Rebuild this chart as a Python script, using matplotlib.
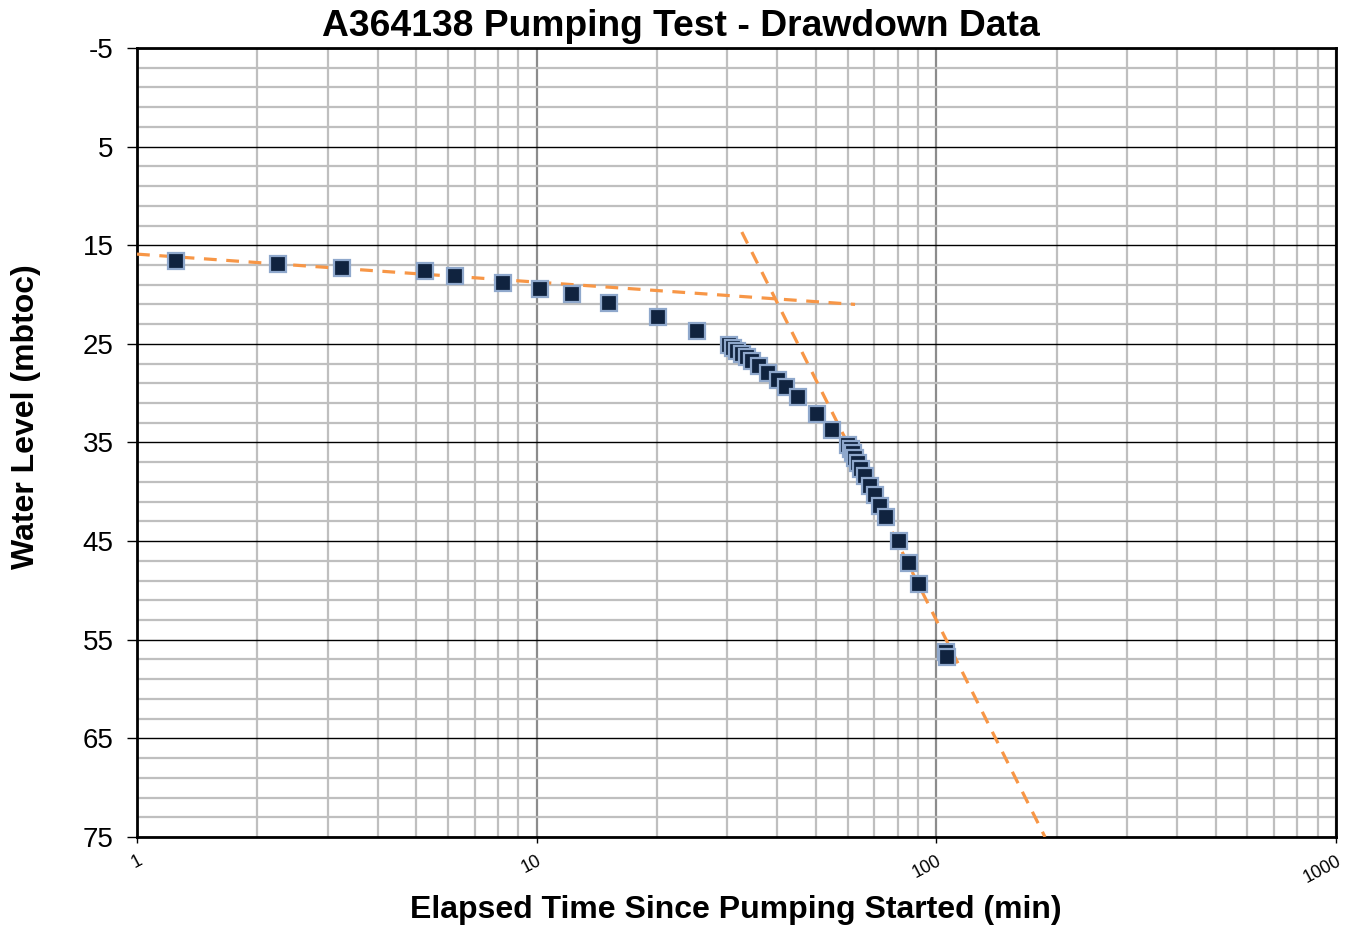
import numpy as np
import matplotlib
matplotlib.use("Agg")
import matplotlib.pyplot as plt
from matplotlib.ticker import FixedLocator, NullFormatter, FixedFormatter

plt.rcParams["font.family"] = ["Liberation Sans", "DejaVu Sans"]
plt.rcParams["axes.unicode_minus"] = False

# Drawdown data: elapsed time (min) vs water level (mbtoc)
time_min = [1.25, 2.25, 3.25, 5.25, 6.25, 8.25, 10.2, 12.25, 15.2, 20.1, 25.2,
            30.3, 31.0, 31.7, 32.6, 33.6, 34.6, 36.0, 37.9, 40.2, 42.0, 45.1,
            50.3, 54.8, 60.1, 61.1, 61.8, 62.6, 63.7, 64.8, 66.3, 68.2, 70.2,
            72.3, 74.8, 80.6, 85.4, 90.5, 105.7, 106.3]
water_level = [16.6, 16.9, 17.3, 17.6, 18.1, 18.8, 19.4, 19.9, 20.9, 22.3, 23.7,
               25.1, 25.4, 25.7, 26.0, 26.3, 26.7, 27.2, 28.0, 28.7, 29.4, 30.4,
               32.1, 33.7, 35.3, 35.7, 36.1, 36.6, 37.1, 37.7, 38.4, 39.4, 40.3,
               41.4, 42.6, 45.0, 47.2, 49.3, 56.2, 56.7]

# Straight-line fits (semi-log), given by their end points
early_fit_t = [1.0, 62.6]
early_fit_wl = [15.9, 21.0]
late_fit_t = [32.6, 187.0]
late_fit_wl = [13.66, 75.0]

y_ticks = [-5, 5, 15, 25, 35, 45, 55, 65, 75]
x_ticks = [1, 10, 100, 1000]
x_tick_labels = ["1", "10", "100", "1000"]

fig = plt.figure(figsize=(13.46, 9.30), dpi=100)
ax = fig.add_axes([0.1018, 0.1, 0.8908, 0.8484])

ax.set_xscale("log")
ax.set_xlim(1, 1000)
ax.set_ylim(75, -5)

# grid
minor_x = [m * d for d in (1, 10, 100) for m in range(2, 10)]
ax.xaxis.set_major_locator(FixedLocator(x_ticks))
ax.xaxis.set_minor_locator(FixedLocator(minor_x))
ax.xaxis.set_major_formatter(FixedFormatter(x_tick_labels))
ax.xaxis.set_minor_formatter(NullFormatter())
ax.yaxis.set_major_locator(FixedLocator(y_ticks))
ax.yaxis.set_minor_locator(FixedLocator(np.arange(-5, 76, 2)))

ax.grid(which="minor", axis="both", color="#bfbfbf", linewidth=1.6, zorder=0)
ax.grid(which="major", axis="x", color="#8c8c8c", linewidth=1.6, zorder=0)
ax.grid(which="major", axis="y", color="black", linewidth=1.0, zorder=0)
ax.set_axisbelow(True)

ax.plot(early_fit_t, early_fit_wl, color="#f79646", linewidth=2.3,
        linestyle=(0, (4, 3)), zorder=3)
ax.plot(late_fit_t, late_fit_wl, color="#f79646", linewidth=2.3,
        linestyle=(0, (4, 3)), zorder=3)
ax.plot(time_min, water_level, linestyle="none", marker="s", markersize=11.5,
        markerfacecolor="#10233f", markeredgecolor="#8fa8cc",
        markeredgewidth=1.6, zorder=4)

for s in ax.spines.values():
    s.set_linewidth(2)
    s.set_color("black")

ax.tick_params(axis="y", which="major", direction="out", length=7, width=1,
               labelsize=20, pad=10)
ax.tick_params(axis="y", which="minor", length=0)
ax.tick_params(axis="x", which="major", direction="out", length=4, width=1,
               labelsize=13, pad=7)
ax.tick_params(axis="x", which="minor", length=0)
for lbl in ax.get_xticklabels():
    lbl.set_rotation(28)
    lbl.set_ha("right")
    lbl.set_va("top")
    lbl.set_rotation_mode("anchor")

fig.text(0.547, 0.021, "Elapsed Time Since Pumping Started (min)",
         fontsize=23, fontweight="bold", ha="center", va="center")
fig.text(0.0193, 0.5516, "Water Level (mbtoc)", fontsize=23,
         fontweight="bold", ha="center", va="center", rotation=90)
fig.suptitle("A364138 Pumping Test - Drawdown Data", fontsize=26.8,
             fontweight="bold", x=0.506, y=0.99)

plt.savefig("out.png", dpi=100)
plt.close(fig)
